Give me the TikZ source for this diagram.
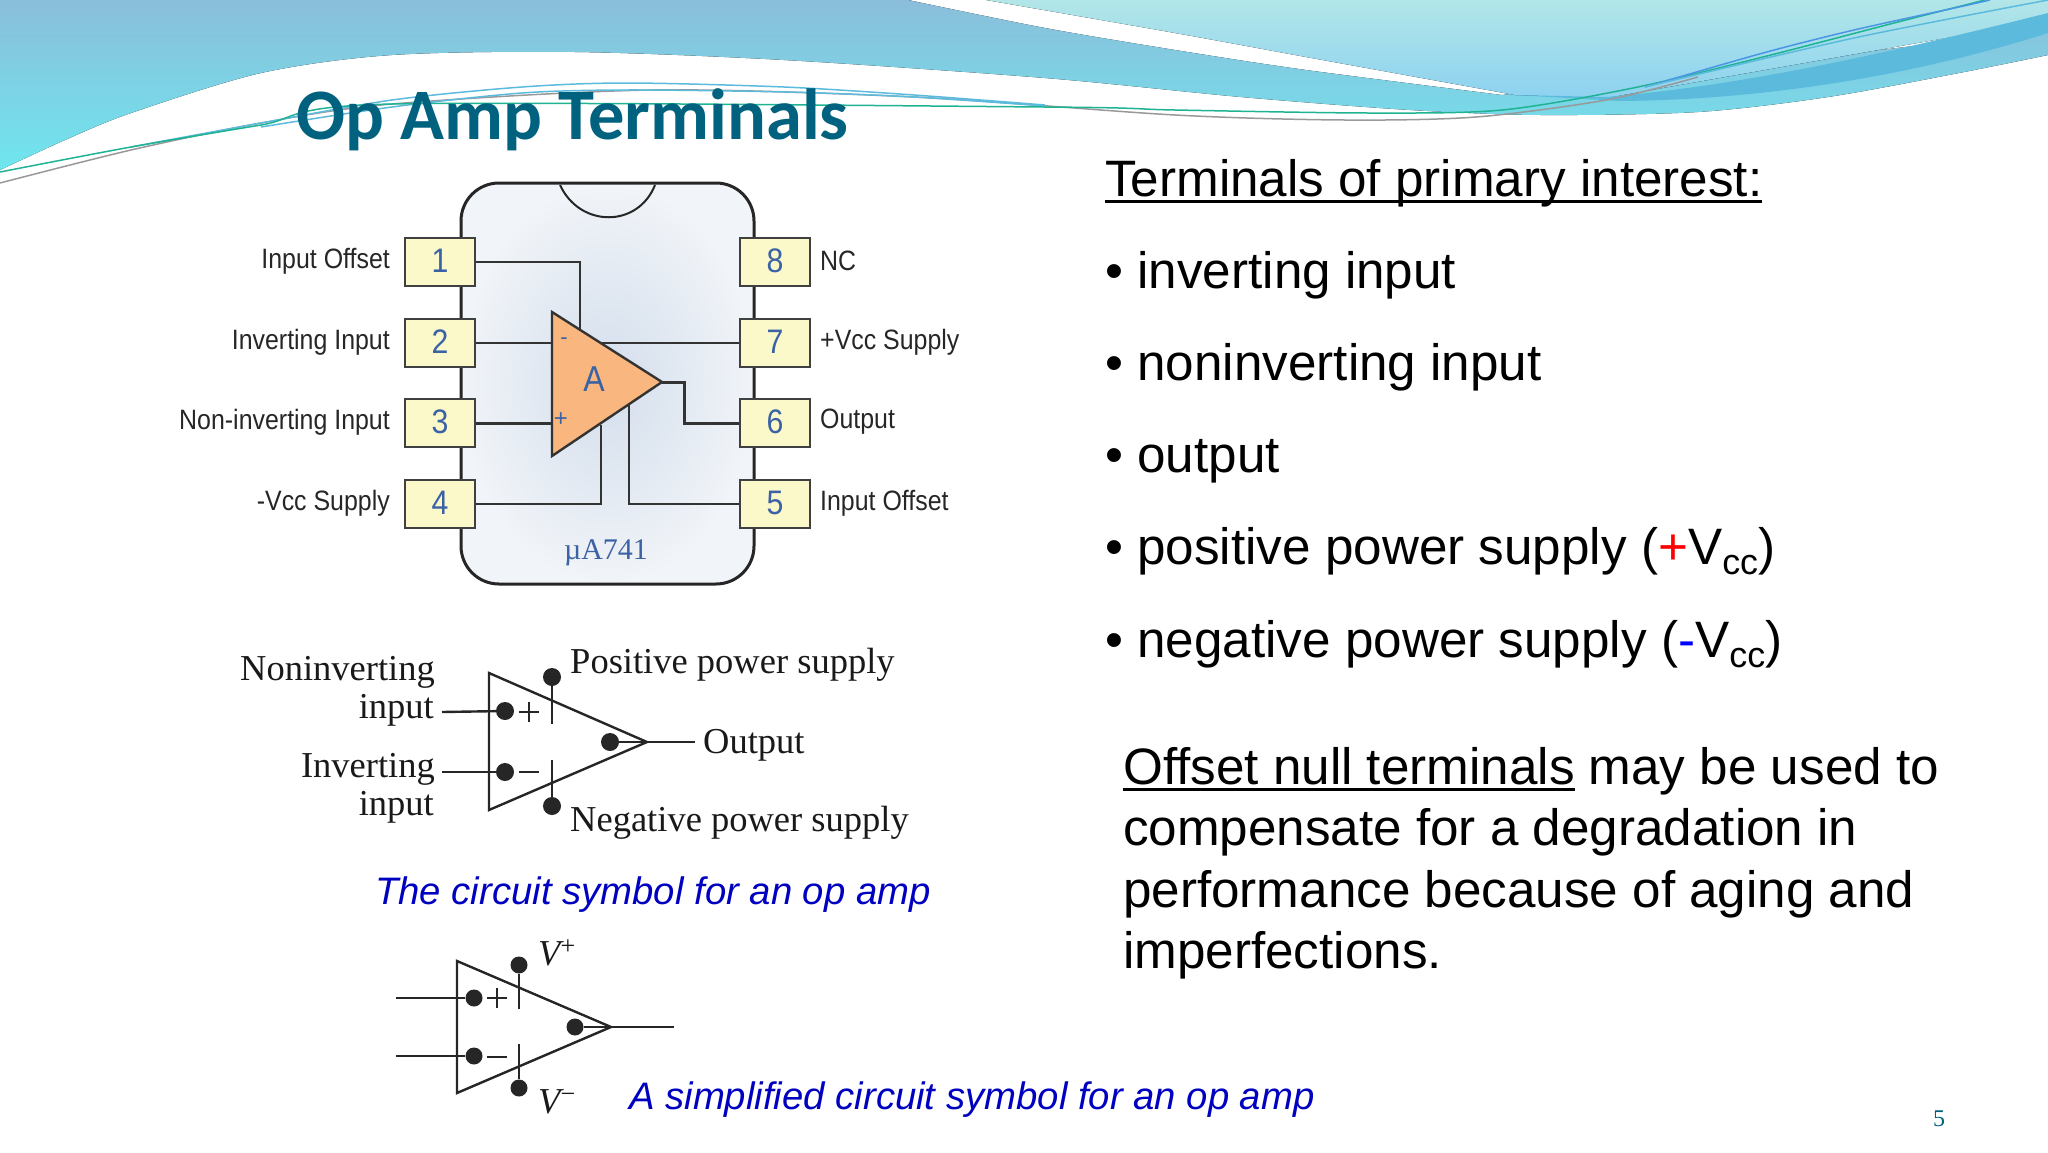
\documentclass[tikz,border=0pt]{standalone}
\usepackage{fontspec}
\setmainfont{Liberation Sans}
\newfontfamily\serifface{Liberation Serif}
\newfontfamily\pinface[FakeStretch=0.89]{Liberation Sans}
\newfontfamily\titleface{Carlito}
\newcommand{\ulbit}[1]{\setbox0=\hbox{#1}\rlap{\rule[-7pt]{\wd0}{3pt}}\box0\relax}
\definecolor{bandtop}{HTML}{8BBEDB}
\definecolor{bandlow}{HTML}{6FE6EE}
\definecolor{paletop}{HTML}{B2E6E8}
\definecolor{palelow}{HTML}{8DD2F0}
\definecolor{stripeblue}{HTML}{5CBBDD}
\definecolor{titleteal}{HTML}{00627F}
\definecolor{capblue}{HTML}{0000C0}
\definecolor{pinyellow}{HTML}{FBF8CA}
\definecolor{pinblue}{HTML}{3A62A5}
\definecolor{ampfill}{HTML}{F9B67E}
\definecolor{chipinner}{HTML}{D3DEEC}
\definecolor{chipouter}{HTML}{F1F4F8}
\definecolor{wavegreen}{HTML}{1FB393}
\tikzstyle{pinbox} = [draw=black!75, line width=2pt, fill=pinyellow, minimum width=70pt, minimum height=48pt, inner sep=0pt, text=pinblue, font=\pinface\fontsize{34}{36}\selectfont]
\tikzstyle{pinlabel} = [inner sep=0pt, text=black!85, font=\pinface\fontsize{28}{32}\selectfont]
\tikzstyle{wire} = [draw=black!80, line width=2pt]
\tikzstyle{symbline} = [draw=black!85, line width=2.4pt]
\tikzstyle{symbdot} = [circle, fill=black!85, inner sep=0pt, minimum size=18pt]
\tikzstyle{symblabel} = [inner sep=0pt, text=black!90, font=\serifface\fontsize{36.5}{38}\selectfont]
\tikzstyle{bodytext} = [inner sep=0pt, anchor=base west, font=\fontsize{51.2}{60}\selectfont]
\tikzstyle{captext} = [inner sep=0pt, anchor=base west, text=capblue, font=\itshape\fontsize{38.3}{44}\selectfont]
\tikzstyle{waveline} = [line width=1.5pt]

\begin{document}
\begin{tikzpicture}[x=1pt, y=-1pt]
	\useasboundingbox (0,0) rectangle (2048,1152);
	% background waves
	\fill[top color=bandtop, bottom color=bandlow] (0,0) -- plot[smooth] coordinates {(908,0) (1045,28) (1175,50) (1306,70) (1502,95)}
		-- (2048,30) -- plot[smooth] coordinates {(2048,55) (1959,73) (1828,97) (1698,112) (1541,115) (1410,110) (1241,97) (1045,78) (784,60) (575,52) (392,55) (261,73) (131,113) (65,140) (0,170)} -- cycle;
	\fill[top color=paletop, bottom color=palelow] plot[smooth] coordinates {(986,0) (1175,33) (1306,57) (1515,95)}
		-- (1606,98) -- (2048,20) -- (2048,0) -- cycle;
	\fill[stripeblue] (1515,95) -- (1606,97)
		.. controls (1750,85) and (1900,50) .. (2048,13)
		-- (2048,33)
		.. controls (1900,80) and (1750,100) .. (1620,101) -- cycle;
	\draw[waveline, color=black!40] plot[smooth] coordinates {(0,183) (131,150) (261,123) (392,104) (653,90) (914,97) (1175,115) (1345,120) (1476,117) (1606,100) (1698,77)};
	\draw[waveline, color=stripeblue] plot[smooth] coordinates {(131,147) (261,123) (392,100) (522,87) (627,83) (784,87) (914,95) (1045,105)};
	\draw[waveline, color=stripeblue] plot[smooth] coordinates {(261,127) (392,107) (522,93) (627,90) (784,92) (914,97) (1045,106)};
	\draw[waveline, color=wavegreen] plot[smooth] coordinates {(0,172) (131,147) (261,125) (392,104) (1045,107) (1175,110) (1371,113) (1502,110) (1633,88) (1763,57) (1894,23) (1985,0)};
	\draw[waveline, color=stripeblue!80!blue] plot[smooth] coordinates {(1645,87) (1763,53) (1854,30) (1959,7) (1990,0)};
	\draw[waveline, color=stripeblue] plot[smooth] coordinates {(1645,87) (1854,38) (2048,0)};

	\node[inner sep=0pt, anchor=base west, text=titleteal, font=\titleface\bfseries\fontsize{72.5}{76}\selectfont] (title) at (296,139) {Op Amp Terminals};

	% chip
	\draw[line width=3pt, draw=black!85, rounded corners=38pt, shade, inner color=chipinner, outer color=chipouter] (461,183) rectangle (754,584);
	\draw[line width=2pt, draw=black!85] (560,185) .. controls (580,228) and (638,228) .. (655,185);
	\foreach \n/\ypos/\txt in {1/262/Input Offset, 2/343/Inverting Input, 3/423/Non-inverting Input, 4/504/-Vcc Supply}{
		\node[pinbox] (pin\n) at (440,\ypos) {\raisebox{2pt}{\n}};
		\node[pinlabel, anchor=east] (lbl\n) at (390,\ypos-1) {\txt};
	}
	\foreach \n/\ypos/\txt in {8/262/NC, 7/343/+Vcc Supply, 6/423/Output, 5/504/Input Offset}{
		\node[pinbox] (pin\n) at (775,\ypos) {\raisebox{2pt}{\n}};
		\node[pinlabel, anchor=west] (lbl\n) at (820,\ypos-1) {\txt};
	}
	\coordinate (ampA) at (552,312);
	\coordinate (ampB) at (552,456);
	\coordinate (ampTip) at (662,382);
	\coordinate (legA) at (580,330);
	\coordinate (legB) at (552,343);
	\coordinate (legC) at (552,423);
	\coordinate (legD) at (601,425);
	\coordinate (legE) at (629,405);
	\coordinate (legF) at (600,343);
	\draw[wire] (pin1.east) -| (legA);
	\draw[wire] (pin2.east) -- (legB);
	\draw[wire, line width=3pt] (pin3.east) -- (legC);
	\draw[wire] (pin4.east) -| (legD);
	\draw[wire] (pin5.west) -| (legE);
	\draw[wire, line width=3pt] (ampTip) -- ++(22,0) |- (pin6.west);
	\draw[wire] (pin7.west) -- (legF);
	\draw[line width=2.4pt, draw=black!80, fill=ampfill, line join=miter] (ampA) -- (ampTip) -- (ampB) -- cycle;
	\node[inner sep=0pt, text=pinblue, font=\pinface\fontsize{36}{38}\selectfont] (ampname) at (594,379) {A};
	\node[inner sep=0pt, text=pinblue, font=\fontsize{22}{24}\selectfont] (ampminus) at (564,341) {-};
	\node[inner sep=0pt, text=pinblue, font=\fontsize{24}{26}\selectfont] (ampplus) at (561,420) {+};
	\node[inner sep=0pt, text=pinblue, font=\serifface\fontsize{30}{32}\selectfont] (chipname) at (606,553) {µA741};

	% circuit symbol
	\coordinate (symA) at (489,673);
	\coordinate (symB) at (489,810);
	\coordinate (symTip) at (647,742);
	\coordinate (symOut) at (695,742);
	\coordinate (symIn) at (442,712);
	\coordinate (symInv) at (442,772);
	\coordinate (symUp) at (552,724);
	\coordinate (symDown) at (552,760);
	\draw[symbline] (symA) -- (symTip) -- (symB) -- cycle;
	\node[symbdot] (dotIn) at (505,711) {};
	\node[symbdot] (dotInv) at (505,772) {};
	\node[symbdot] (dotOut) at (610,742) {};
	\node[symbdot] (dotUp) at (552,677) {};
	\node[symbdot] (dotDown) at (552,806) {};
	\draw[symbline] (symIn) -- (dotIn);
	\draw[symbline] (symInv) -- (dotInv);
	\draw[symbline] (dotOut) -- (symOut);
	\draw[symbline] (dotUp) -- (symUp);
	\draw[symbline] (dotDown) -- (symDown);
	\draw[symbline] (519,712) -- (539,712) (529,702) -- (529,722);
	\draw[symbline] (519,772) -- (539,772);
	\node[symblabel, anchor=base east] (lblNon) at (435,680) {Noninverting};
	\node[symblabel, anchor=base east] (lblNonB) at (434,718) {input};
	\node[symblabel, anchor=base east] (lblInv) at (435,777) {Inverting};
	\node[symblabel, anchor=base east] (lblInvB) at (434,815) {input};
	\node[symblabel, anchor=base west] (lblPos) at (570,673) {Positive power supply};
	\node[symblabel, anchor=base west] (lblNeg) at (570,831) {Negative power supply};
	\node[symblabel, anchor=base west] (lblOut) at (703,753) {Output};
	\node[captext] (capA) at (375,904) {The circuit symbol for an op amp};

	% simplified symbol
	\coordinate (simA) at (457,961);
	\coordinate (simB) at (457,1093);
	\coordinate (simTip) at (611,1027);
	\coordinate (simOut) at (674,1027);
	\coordinate (simIn) at (396,998);
	\coordinate (simInv) at (396,1056);
	\coordinate (simUp) at (519,1009);
	\coordinate (simDown) at (519,1044);
	\draw[symbline] (simA) -- (simTip) -- (simB) -- cycle;
	\node[symbdot, minimum size=17pt] (sdotIn) at (474,998) {};
	\node[symbdot, minimum size=17pt] (sdotInv) at (474,1056) {};
	\node[symbdot, minimum size=17pt] (sdotOut) at (575,1027) {};
	\node[symbdot, minimum size=17pt] (sdotUp) at (519,965) {};
	\node[symbdot, minimum size=17pt] (sdotDown) at (519,1088) {};
	\draw[symbline] (simIn) -- (sdotIn);
	\draw[symbline] (simInv) -- (sdotInv);
	\draw[symbline] (sdotOut) -- (simOut);
	\draw[symbline] (sdotUp) -- (simUp);
	\draw[symbline] (sdotDown) -- (simDown);
	\draw[symbline] (487,998) -- (507,998) (497,988) -- (497,1008);
	\draw[symbline] (487,1057) -- (507,1057);
	\node[symblabel, anchor=base west] (lblVp) at (538,965) {{\itshape V}\raisebox{11pt}{\fontsize{26}{28}\selectfont +}};
	\node[symblabel, anchor=base west] (lblVm) at (538,1113) {{\itshape V}\raisebox{11pt}{\fontsize{26}{28}\selectfont −}};
	\node[captext] (capB) at (629,1109) {A simplified circuit symbol for an op amp};

	% right column
	\node[bodytext] (head) at (1105,196) {\ulbit{Terminals of primary interest:}};
	\foreach \n/\ypos/\txt in {a/288/inverting input, b/380/noninverting input, c/472/output, d/564/positive power supply ({\color{red}+}V\textsubscript{cc}), e/657/negative power supply ({\color{blue}-}V\textsubscript{cc})}{
		\node[bodytext] (item\n) at (1105,\ypos) {•\hspace{0.28em}\txt};
	}
	\node[bodytext] (nullA) at (1123,784) {\ulbit{Offset null terminals} may be used to};
	\node[bodytext] (nullB) at (1123,845) {compensate for a degradation in};
	\node[bodytext] (nullC) at (1123,907) {performance because of aging and};
	\node[bodytext] (nullD) at (1123,968) {imperfections.};

	\node[inner sep=0pt, text=titleteal, font=\serifface\fontsize{24}{26}\selectfont] (pageno) at (1939,1119) {5};
\end{tikzpicture}
\end{document}
